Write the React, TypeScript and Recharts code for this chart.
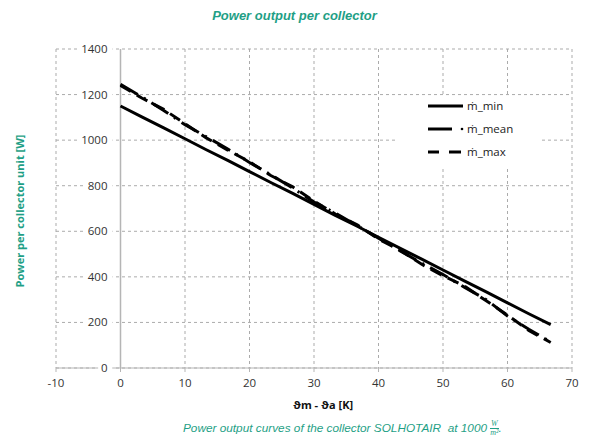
import React from "react";
import { CartesianGrid, Line, LineChart, ReferenceDot, ReferenceLine, XAxis, YAxis } from "recharts";

// temperature difference (K) at which the curves were read
const deltaT = [0, 3.3, 6.7, 10, 13.3, 16.7, 20, 23.3, 26.7, 30, 33.3, 36.7, 40, 43.3, 46.7, 50, 53.3, 56.7, 60, 63.3, 66.7];
// power per collector unit (W)
const mMin = [1150, 1102, 1054, 1006, 958, 910, 862, 814, 766, 718, 670, 622, 574, 526, 478, 430, 382, 334, 286, 238, 190];
const mMean = [1245, 1190, 1130, 1068, 1015, 960, 902, 848, 790, 728, 680, 625, 570, 515, 460, 410, 355, 300, 228, 170, 115];
const mMax = [1240, 1185, 1135, 1072, 1010, 955, 905, 845, 795, 732, 676, 628, 566, 518, 455, 405, 360, 295, 232, 165, 112];

const xTicks = [-10, 0, 10, 20, 30, 40, 50, 60, 70];
const yTicks = [0, 200, 400, 600, 800, 1000, 1200, 1400];

const TEAL = "#1f9f86";
const GRID = "#ababab";

const data = deltaT.map((x, i) => ({ x, min: mMin[i], mean: mMean[i], max: mMax[i] }));

const series = [
    { key: "min", name: "ṁ_min", dash: undefined },
    { key: "mean", name: "ṁ_mean", dash: "20 7 2 7" },
    { key: "max", name: "ṁ_max", dash: "12 7" },
];

// y tick labels sit on the x=0 axis, with a white patch over the grid
const YTickLabel = (props: any) => {
    const { cx, cy, value } = props;
    const w = String(value).length * 6.4 + 5;
    return (
        <g>
            <rect x={cx - 11 - w} y={cy - 7} width={w + 3} height={14} fill="#fff" />
            <text x={cx - 13} y={cy} dy="0.35em" textAnchor="end" fontSize={11.5} fill="#333" fontFamily="Open Sans, sans-serif">
                {value}
            </text>
        </g>
    );
};

const LegendBox = () => (
    <svg width={147} height={70} style={{ display: "block" }}>
        {series.map((s, i) => {
            const y = 10 + i * 23;
            return (
                <g key={s.key}>
                    {s.key === "min" && <line x1={33} x2={68} y1={y} y2={y} stroke="#000" strokeWidth={3} />}
                    {s.key === "mean" && (
                        <g>
                            <line x1={33} x2={57} y1={y} y2={y} stroke="#000" strokeWidth={3} />
                            <circle cx={67} cy={y} r={1.3} fill="#000" />
                        </g>
                    )}
                    {s.key === "max" && (
                        <g>
                            <line x1={33} x2={44} y1={y} y2={y} stroke="#000" strokeWidth={3} />
                            <line x1={54} x2={66} y1={y} y2={y} stroke="#000" strokeWidth={3} />
                        </g>
                    )}
                    <text x={72} y={y} dy="0.35em" fontSize={11.5} fill="#222" fontFamily="Open Sans, sans-serif">
                        {s.name}
                    </text>
                </g>
            );
        })}
    </svg>
);

export default function App() {
    return (
        <div style={{ position: "absolute", left: 0, top: 0, width: 589, height: 438, background: "#fff" }}>
            <div style={{ position: "absolute", left: 0, width: 589, top: 8, textAlign: "center", color: TEAL, fontFamily: "Liberation Sans, Arial, sans-serif", fontWeight: "bold", fontStyle: "italic", fontSize: 13 }}>
                Power output per collector
            </div>
            <div style={{ position: "absolute", left: 19, top: 211, transform: "translate(-50%, -50%) rotate(-90deg)", whiteSpace: "nowrap", color: TEAL, fontFamily: "Open Sans, sans-serif", fontWeight: "bold", fontSize: 11 }}>
                Power per collector unit [W]
            </div>
            <LineChart width={589} height={438} data={data} margin={{ top: 49, right: 17, bottom: 30, left: 56 }}>
                <CartesianGrid stroke={GRID} strokeDasharray="3 3" />
                <XAxis
                    dataKey="x"
                    type="number"
                    domain={[-10, 70]}
                    ticks={xTicks}
                    height={40}
                    stroke="#b5b5b5"
                    tickSize={4}
                    tickMargin={7}
                    tick={{ fill: "#333", fontSize: 11.5, fontFamily: "Open Sans, sans-serif" }}
                    allowDataOverflow
                />
                <YAxis hide type="number" domain={[0, 1400]} ticks={yTicks} />
                <ReferenceLine x={0} stroke="#b5b5b5" strokeWidth={1.5} />
                {yTicks.map((v) => (
                    <ReferenceDot key={v} x={0} y={v} r={0} shape={(p: any) => <YTickLabel {...p} value={v} />} />
                ))}
                {series.map((s) => (
                    <Line
                        key={s.key}
                        dataKey={s.key}
                        name={s.name}
                        type="linear"
                        stroke="#000"
                        strokeWidth={3}
                        strokeDasharray={s.dash}
                        dot={false}
                        isAnimationActive={false}
                    />
                ))}
            </LineChart>
            <div style={{ position: "absolute", left: 395, top: 96, width: 147, height: 70, background: "#fff" }}>
                <LegendBox />
            </div>
            <div style={{ position: "absolute", left: 323, top: 397, transform: "translateX(-50%)", whiteSpace: "nowrap", fontFamily: "Open Sans, sans-serif", fontWeight: "bold", fontSize: 11, color: "#111" }}>
                ϑm - ϑa [K]
            </div>
            <div style={{ position: "absolute", left: 183, top: 420, whiteSpace: "nowrap", color: TEAL, fontFamily: "Liberation Sans, Arial, sans-serif", fontStyle: "italic", fontSize: 11.8 }}>
                Power output curves of the collector SOLHOTAIR&nbsp; at 1000{" "}
                <span style={{ display: "inline-flex", flexDirection: "column", alignItems: "center", verticalAlign: "middle", fontFamily: "Liberation Serif, serif", fontSize: 8, lineHeight: "8px" }}>
                    <span>W</span>
                    <span style={{ borderTop: `0.8px solid ${TEAL}` }}>m²</span>
                </span>
                .
            </div>
        </div>
    );
}
